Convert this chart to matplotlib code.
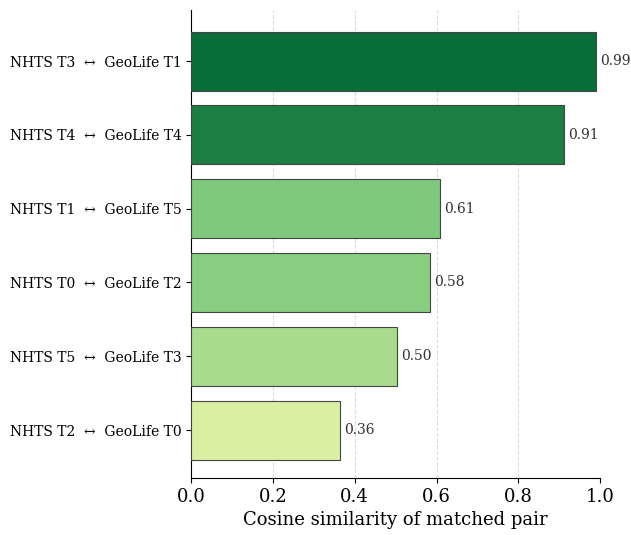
import numpy as np
import matplotlib
matplotlib.use('Agg')
import matplotlib.pyplot as plt

plt.rcParams['font.family'] = 'DejaVu Serif'

nhts = ['NHTS T2', 'NHTS T5', 'NHTS T0', 'NHTS T1', 'NHTS T4', 'NHTS T3']
geolife = ['GeoLife T0', 'GeoLife T3', 'GeoLife T2', 'GeoLife T5', 'GeoLife T4', 'GeoLife T1']
similarity = [0.363, 0.504, 0.583, 0.609, 0.912, 0.990]

labels = ['%s  \u2194  %s' % (a, b) for a, b in zip(nhts, geolife)]
sim = np.array(similarity)

# colour each bar by its similarity
cmap = plt.get_cmap('YlGn')
pos = 0.25 + 0.6 * (sim - sim.min()) / (sim.max() - sim.min())
colors = cmap(pos)

fig = plt.figure(figsize=(6.31, 5.35), dpi=100)
ax = fig.add_axes([0.303, 0.1065, 0.648, 0.8745])

y = np.arange(len(sim))
ax.barh(y, sim, height=0.8, color=colors, edgecolor='#444444', linewidth=0.8, zorder=3)
for yi, v in zip(y, sim):
    ax.text(v + 0.01, yi, '%.2f' % v, va='center', ha='left', fontsize=10, color='#333333')

ax.set_yticks(y)
ax.set_yticklabels(labels, fontsize=10)
ax.set_ylim(-0.65, 5.69)
ax.set_xlim(0, 1.0)
ax.set_xticks([0.0, 0.2, 0.4, 0.6, 0.8, 1.0])
ax.tick_params(axis='x', labelsize=13)
ax.set_xlabel('Cosine similarity of matched pair', fontsize=13)
ax.grid(axis='x', linestyle='--', color='#dddddd', linewidth=0.8, zorder=0)
ax.set_axisbelow(True)
ax.spines['top'].set_visible(False)
ax.spines['right'].set_visible(False)

fig.savefig('out.png', dpi=100)
